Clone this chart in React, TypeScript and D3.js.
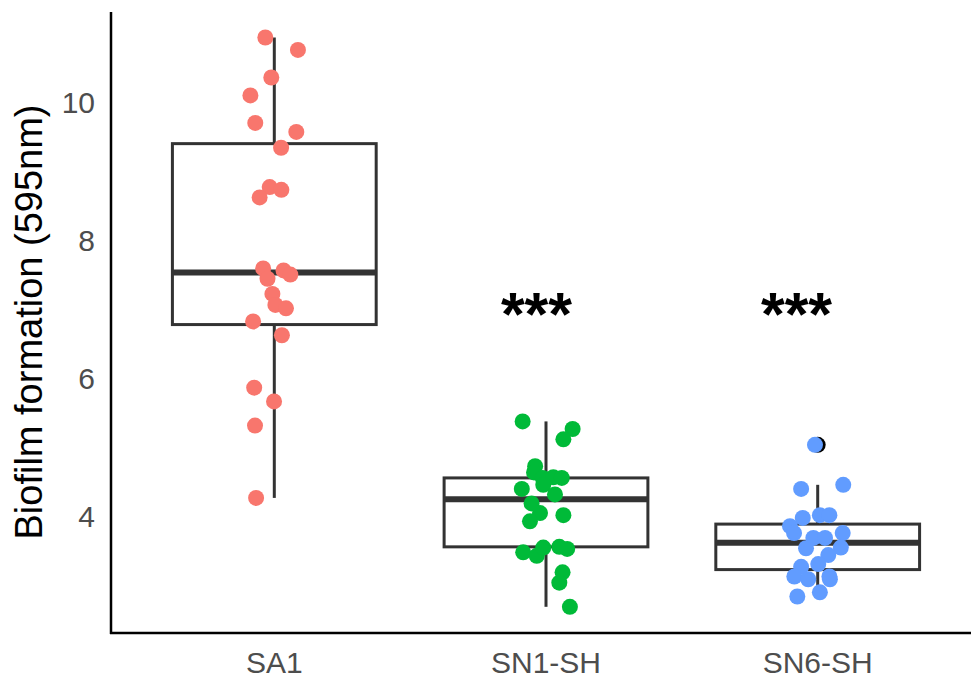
import React from "react";
import * as d3 from "d3";

const W = 971;
const H = 680;

const categories = ["SA1", "SN1-SH", "SN6-SH"];
const colors = ["#F8766D", "#00BA38", "#619CFF"];

// Jittered observations: value and horizontal jitter (in category units)
const sa1Values = [10.94, 10.76, 10.36, 10.10, 9.70, 9.57, 9.34, 8.77, 8.73, 8.62, 7.59, 7.56, 7.50, 7.44, 7.22, 7.06, 7.01, 6.82, 6.62, 5.86, 5.66, 5.31, 4.26];
const sa1Jitter = [-0.033, 0.087, -0.011, -0.088, -0.070, 0.081, 0.025, -0.017, 0.026, -0.054, -0.041, 0.034, 0.059, -0.025, -0.007, 0.004, 0.043, -0.078, 0.028, -0.074, -0.001, -0.071, -0.067];

const sn1Values = [5.37, 5.26, 5.11, 4.72, 4.63, 4.55, 4.56, 4.55, 4.39, 4.45, 4.31, 4.18, 4.04, 4.01, 3.92, 3.47, 3.42, 3.54, 3.55, 3.52, 3.18, 3.03, 2.68];
const sn1Jitter = [-0.086, 0.098, 0.064, -0.040, -0.044, -0.012, 0.027, 0.058, -0.089, -0.010, 0.033, -0.053, -0.022, 0.064, -0.059, -0.084, -0.034, -0.010, 0.049, 0.078, 0.061, 0.049, 0.088];

const sn6Values = [5.03, 4.39, 4.45, 4.01, 4.01, 3.97, 3.85, 3.75, 3.75, 3.68, 3.68, 3.53, 3.54, 3.43, 3.30, 3.26, 3.12, 3.08, 3.12, 3.08, 2.89, 2.83];
const sn6Jitter = [-0.010, -0.061, 0.094, 0.008, 0.043, -0.055, -0.102, -0.087, 0.092, -0.016, 0.027, -0.043, 0.085, 0.039, 0.002, -0.061, -0.086, -0.035, 0.043, 0.045, 0.008, -0.075];

// Box statistics per category
const whiskerLow = [4.26, 2.68, 2.83];
const q1 = [6.775, 3.55, 3.22];
const median = [7.53, 4.24, 3.61];
const q3 = [9.40, 4.55, 3.88];
const whiskerHigh = [10.94, 5.37, 4.45];
const outliers = [[], [], [5.03]];

const yTicks = [4, 6, 8, 10];

// Significance labels with their horizontal nudge (category units)
const sigLabels = [
  { cat: "SN1-SH", text: "***", nudge: -0.035, value: 6.62 },
  { cat: "SN6-SH", text: "***", nudge: -0.078, value: 6.62 },
];

const groups = [
  { values: sa1Values, jitter: sa1Jitter },
  { values: sn1Values, jitter: sn1Jitter },
  { values: sn6Values, jitter: sn6Jitter },
];

const FONT = "'Liberation Sans', Arial, sans-serif";

export default function App() {
  const left = 111;
  const bottom = 633;
  const top = 12;

  const y = d3.scaleLinear().domain([2.30, 11.31]).range([bottom, top]);
  const x = d3.scalePoint<string>().domain(categories).range([274.3, 817.7]);
  const step = x.step();
  const boxHalf = (0.75 * step) / 2;

  return (
    <svg
      width={W}
      height={H}
      style={{ position: "absolute", left: 0, top: 0, background: "#fff" }}
    >
      <rect x={0} y={0} width={W} height={H} fill="#fff" />

      {/* boxplots */}
      {categories.map((c, i) => {
        const cx = x(c)!;
        return (
          <g key={c}>
            <line x1={cx} x2={cx} y1={y(q3[i])} y2={y(whiskerHigh[i])} stroke="#333333" strokeWidth={3} />
            <line x1={cx} x2={cx} y1={y(q1[i])} y2={y(whiskerLow[i])} stroke="#333333" strokeWidth={3} />
            <rect
              x={cx - boxHalf}
              y={y(q3[i])}
              width={2 * boxHalf}
              height={y(q1[i]) - y(q3[i])}
              fill="#fff"
              stroke="#333333"
              strokeWidth={3}
            />
            <line
              x1={cx - boxHalf}
              x2={cx + boxHalf}
              y1={y(median[i])}
              y2={y(median[i])}
              stroke="#333333"
              strokeWidth={6}
            />
            {outliers[i].map((v, k) => (
              <circle key={k} cx={cx} cy={y(v)} r={8} fill="#000" />
            ))}
          </g>
        );
      })}

      {/* jittered points */}
      {groups.map((g, i) =>
        g.values.map((v, k) => (
          <circle
            key={`${i}-${k}`}
            cx={x(categories[i])! + g.jitter[k] * step}
            cy={y(v)}
            r={8}
            fill={colors[i]}
          />
        ))
      )}

      {/* significance stars */}
      {sigLabels.map((s) => (
        <text
          key={s.cat}
          x={x(s.cat)! + s.nudge * step}
          y={y(s.value)}
          textAnchor="middle"
          fontFamily={FONT}
          fontWeight="bold"
          fontSize={61}
          fill="#000"
        >
          {s.text}
        </text>
      ))}

      {/* axes */}
      <line x1={left} x2={left} y1={top} y2={bottom + 1} stroke="#000" strokeWidth={2.5} />
      <line x1={left - 1} x2={W} y1={bottom} y2={bottom} stroke="#000" strokeWidth={2.5} />

      {yTicks.map((t) => (
        <text
          key={t}
          x={95}
          y={y(t) + 10.7}
          textAnchor="end"
          fontFamily={FONT}
          fontSize={30}
          fill="#4D4D4D"
        >
          {t}
        </text>
      ))}

      {categories.map((c) => (
        <text
          key={c}
          x={x(c)!}
          y={673}
          textAnchor="middle"
          fontFamily={FONT}
          fontSize={30}
          fill="#4D4D4D"
        >
          {c}
        </text>
      ))}

      <text
        transform={`translate(42, 322) rotate(-90)`}
        textAnchor="middle"
        fontFamily={FONT}
        fontSize={38}
        fill="#000"
      >
        Biofilm formation (595nm)
      </text>
    </svg>
  );
}
